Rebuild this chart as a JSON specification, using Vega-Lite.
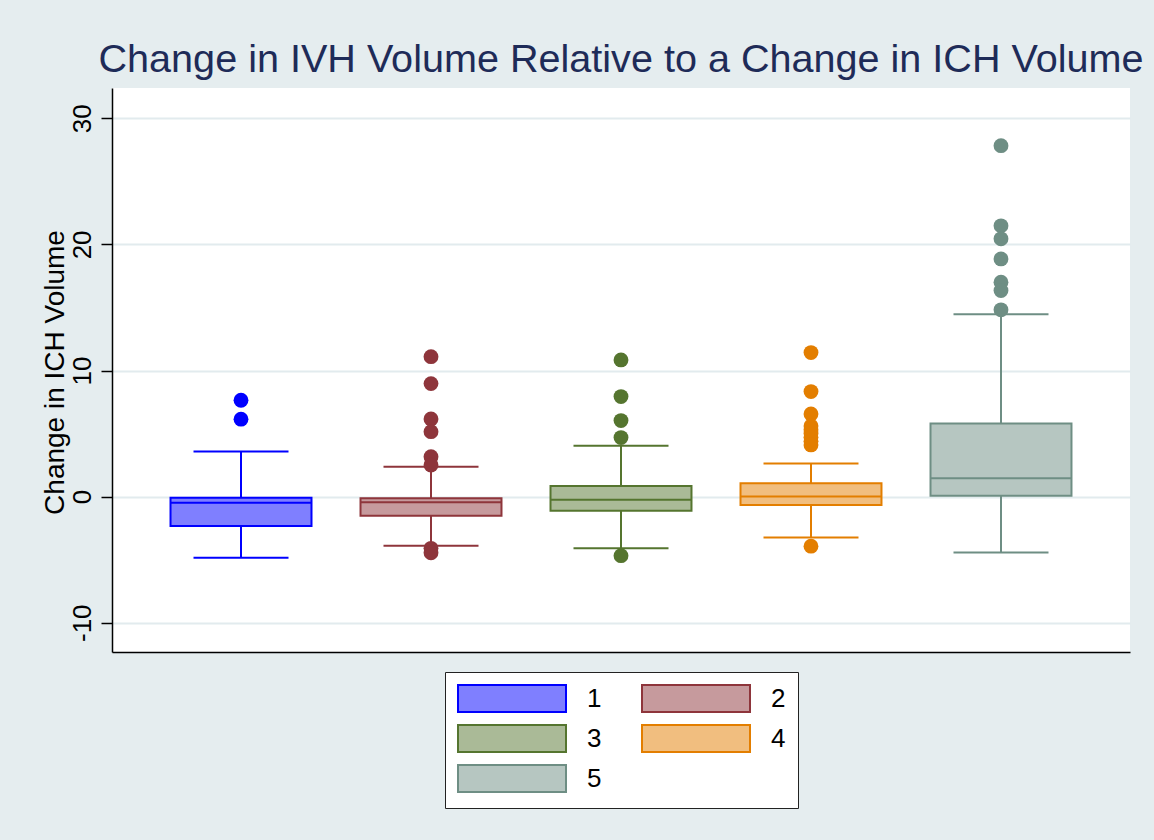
{
  "$schema": "https://vega.github.io/schema/vega-lite/v6.json",
  "width": 1018,
  "height": 564,
  "autosize": "none",
  "padding": {"left": 112, "top": 88, "right": 24, "bottom": 188},
  "background": "#E5EDEF",
  "title": {
    "text": "Change in IVH Volume Relative to a Change in ICH Volume",
    "fontSize": 39.6,
    "font": "Liberation Sans",
    "fontWeight": "normal",
    "color": "#1E2B58",
    "anchor": "middle",
    "baseline": "alphabetic",
    "frame": "group",
    "offset": -24
  },
  "datasets": {
    "boxes": [
      {"group": "1", "lower": -4.84, "q1": -2.32, "median": -0.48, "q3": -0.08, "upper": 3.57},
      {"group": "2", "lower": -3.89, "q1": -1.51, "median": -0.44, "q3": -0.13, "upper": 2.36},
      {"group": "3", "lower": -4.09, "q1": -1.13, "median": -0.24, "q3": 0.85, "upper": 4.04},
      {"group": "4", "lower": -3.25, "q1": -0.66, "median": 0.0, "q3": 1.06, "upper": 2.62},
      {"group": "5", "lower": -4.44, "q1": 0.06, "median": 1.46, "q3": 5.79, "upper": 14.46}
    ],
    "outliers": [
      {"group": "1", "value": 7.64},
      {"group": "1", "value": 6.14},
      {"group": "2", "value": 11.1},
      {"group": "2", "value": 8.96},
      {"group": "2", "value": 6.16},
      {"group": "2", "value": 5.15},
      {"group": "2", "value": 3.17},
      {"group": "2", "value": 2.5},
      {"group": "2", "value": -4.1},
      {"group": "2", "value": -4.45},
      {"group": "3", "value": 10.84},
      {"group": "3", "value": 7.93},
      {"group": "3", "value": 6.03},
      {"group": "3", "value": 4.68},
      {"group": "3", "value": -4.68},
      {"group": "4", "value": 11.42},
      {"group": "4", "value": 8.33},
      {"group": "4", "value": 6.56},
      {"group": "4", "value": 5.6},
      {"group": "4", "value": 5.3},
      {"group": "4", "value": 5.0},
      {"group": "4", "value": 4.7},
      {"group": "4", "value": 4.4},
      {"group": "4", "value": 4.1},
      {"group": "4", "value": -3.93},
      {"group": "5", "value": 27.83},
      {"group": "5", "value": 21.47},
      {"group": "5", "value": 20.44},
      {"group": "5", "value": 18.85},
      {"group": "5", "value": 17.0},
      {"group": "5", "value": 16.34},
      {"group": "5", "value": 14.81}
    ]
  },
  "encoding": {
    "x": {
      "field": "group",
      "type": "nominal",
      "scale": {"type": "band", "paddingInner": 0.258, "paddingOuter": 0.308},
      "axis": {"labels": false, "ticks": false, "title": null, "domain": true, "grid": false}
    }
  },
  "layer": [
    {
      "data": {"name": "boxes"},
      "mark": {"type": "rule", "strokeWidth": 2},
      "encoding": {
        "y": {"field": "lower", "type": "quantitative", "scale": {"domain": [-12.32, 32.4], "nice": false, "zero": false}, "axis": {"title": "Change in ICH Volume", "values": [-10, 0, 10, 20, 30]}},
        "y2": {"field": "upper"},
        "color": {"field": "group", "type": "nominal", "scale": {"range": ["#0000FF", "#8E353B", "#55752F", "#E37E00", "#6E8E84"]}, "legend": null}
      }
    },
    {
      "data": {"name": "boxes"},
      "mark": {"type": "bar", "strokeWidth": 2, "opacity": 1},
      "encoding": {
        "y": {"field": "q3", "type": "quantitative", "axis": {"title": "Change in ICH Volume", "values": [-10, 0, 10, 20, 30]}},
        "y2": {"field": "q1"},
        "fill": {"field": "group", "type": "nominal", "scale": {"range": ["#7F7FFF", "#C69A9D", "#AABA97", "#F1BE7F", "#B6C6C1"]}, "legend": {"orient": "none", "legendX": 333, "legendY": 584, "columns": 2, "direction": "horizontal", "title": null}},
        "stroke": {"field": "group", "type": "nominal", "scale": {"range": ["#0000FF", "#8E353B", "#55752F", "#E37E00", "#6E8E84"]}, "legend": {"orient": "none", "legendX": 333, "legendY": 584, "columns": 2, "direction": "horizontal", "title": null}}
      }
    },
    {
      "data": {"name": "boxes"},
      "mark": {"type": "tick", "size": 141, "thickness": 2, "opacity": 1},
      "encoding": {
        "y": {"field": "median", "type": "quantitative", "axis": {"title": "Change in ICH Volume", "values": [-10, 0, 10, 20, 30]}},
        "color": {"field": "group", "type": "nominal", "legend": null}
      }
    },
    {
      "data": {"name": "boxes"},
      "mark": {"type": "tick", "size": 95, "thickness": 2, "opacity": 1},
      "encoding": {
        "y": {"field": "upper", "type": "quantitative", "axis": {"title": "Change in ICH Volume", "values": [-10, 0, 10, 20, 30]}},
        "color": {"field": "group", "type": "nominal", "legend": null}
      }
    },
    {
      "data": {"name": "boxes"},
      "mark": {"type": "tick", "size": 95, "thickness": 2, "opacity": 1},
      "encoding": {
        "y": {"field": "lower", "type": "quantitative", "axis": {"title": "Change in ICH Volume", "values": [-10, 0, 10, 20, 30]}},
        "color": {"field": "group", "type": "nominal", "legend": null}
      }
    },
    {
      "data": {"name": "outliers"},
      "mark": {"type": "circle", "size": 220, "opacity": 1},
      "encoding": {
        "y": {"field": "value", "type": "quantitative", "axis": {"title": "Change in ICH Volume", "values": [-10, 0, 10, 20, 30]}},
        "color": {"field": "group", "type": "nominal", "legend": null}
      }
    }
  ],
  "config": {
    "view": {"stroke": null, "fill": "white"},
    "font": "Liberation Sans",
    "axis": {
      "domainColor": "black",
      "domainWidth": 1.5,
      "tickColor": "black",
      "tickWidth": 1.5,
      "labelFont": "Liberation Sans",
      "titleFont": "Liberation Sans",
      "labelColor": "black",
      "titleColor": "black",
      "titleFontWeight": "normal"
    },
    "axisY": {
      "grid": true,
      "gridColor": "#E2EBEE",
      "gridWidth": 2,
      "tickSize": 11,
      "labelAngle": 270,
      "labelAlign": "center",
      "labelBaseline": "alphabetic",
      "labelPadding": 11,
      "labelFontSize": 26,
      "labelExpr": "toString(datum.value)",
      "titleFontSize": 28,
      "titleAngle": 270,
      "titleX": -49,
      "titleY": 284,
      "titleAlign": "center",
      "titleBaseline": "alphabetic"
    },
    "legend": {
      "symbolType": "M-1,-1L7,-1L7,1L-1,1Z",
      "symbolSize": 729,
      "symbolStrokeWidth": 2,
      "labelFontSize": 26,
      "labelFont": "Liberation Sans",
      "labelColor": "black",
      "labelOffset": 101,
      "columnPadding": 36,
      "rowPadding": 5,
      "padding": 12,
      "strokeColor": "#222222",
      "fillColor": "white"
    }
  }
}
